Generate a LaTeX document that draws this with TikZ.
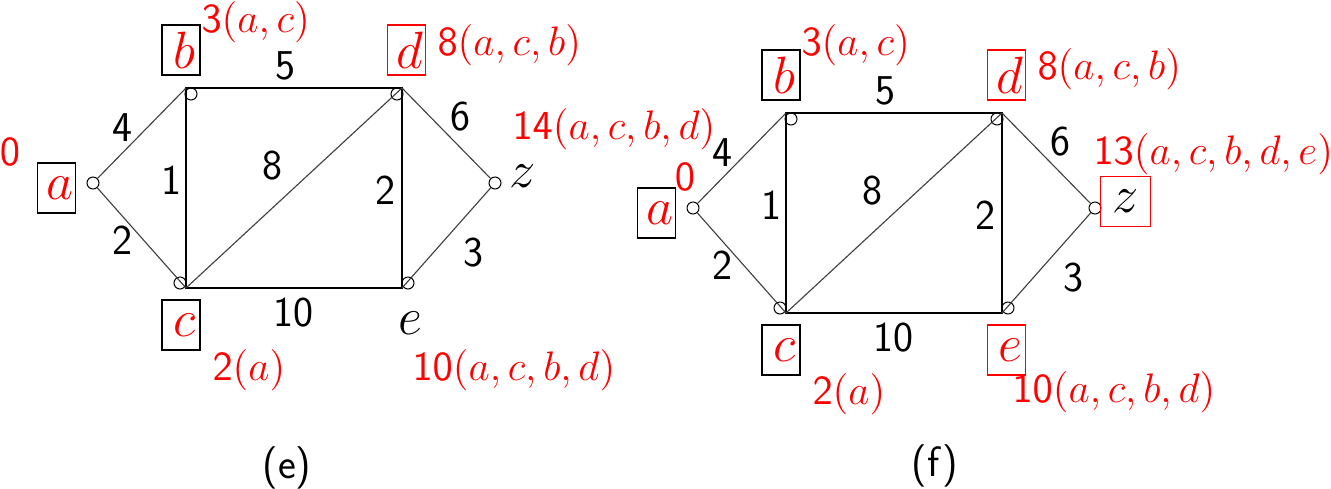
\RequirePackage{fix-cm}
\documentclass[tikz,border=0pt]{standalone}
\usepackage{tikz}
\usetikzlibrary{positioning}
\definecolor{lblred}{HTML}{FF0000}

\begin{document}
\begin{tikzpicture}[x=0.4pt, y=-0.4pt,
    vert/.style={circle, draw, line width=0.4pt, minimum size=4.8pt, inner sep=0pt},
    side/.style={line width=0.8pt},
    slant/.style={line width=0.45pt, black!75},
    wt/.style={font=\fontsize{17}{20}\selectfont\sffamily, inner sep=0pt},
    lbl/.style={text=lblred, font=\fontsize{16.5}{19}\selectfont, inner sep=0pt},
    letter/.style={font=\fontsize{21}{25}\selectfont, inner sep=0pt},
    box/.style={draw, line width=0.45pt, minimum width=15.2pt, minimum height=20pt, inner sep=0pt,
                font=\fontsize{21}{25}\selectfont, text=lblred},
    redbox/.style={box, draw=lblred}]
    \useasboundingbox (0,0) rectangle (1331,488);

    % ---------------- graph (e) ----------------
    % Corners and vertices
    \coordinate (eb) at (186,88);
    \coordinate (ed) at (402,88);
    \coordinate (ec) at (186,288);
    \coordinate (ee) at (402,288);
    \node[vert] (ea) at (93,183) {};
    \node[vert] (ebo) at (191,94) {};
    \node[vert] (edo) at (397,94) {};
    \node[vert] (eco) at (180,283) {};
    \node[vert] (eeo) at (408,283) {};
    \node[vert] (ez) at (495,183) {};

    % Edges
    \draw[side] (eb) -- (ed) -- (ee) -- (ec) -- cycle;
    \draw[slant] (ea) -- (eb);
    \draw[slant] (ea) -- (ec);
    \draw[slant] (ec) -- (ed);
    \draw[slant] (ed) -- (ez);
    \draw[slant] (ez) -- (ee);

    % Weights
    \node[wt] (e-wab) at (122,128) {4};
    \node[wt] (e-wac) at (122,240) {2};
    \node[wt] (e-wbc) at (171,180) {1};
    \node[wt] (e-wcd) at (272,166) {8};
    \node[wt] (e-wbd) at (285,66) {5};
    \node[wt] (e-wde) at (385,190) {2};
    \node[wt] (e-wdz) at (460,117) {6};
    \node[wt] (e-wez) at (473,253) {3};
    \node[wt] (e-wce) at (293,313) {10};

    % Vertex names
    \node[box] (e-boxa) at (56.5,188) {\hspace*{3pt}$a$};
    \node[box] (e-boxb) at (181,50) {\hspace*{3pt}$b$};
    \node[box] (e-boxc) at (181,325) {\hspace*{3pt}$c$};
    \node[redbox] (e-boxd) at (406.5,50) {\hspace*{3pt}$d$};
    \node[letter] (e-name) at (410,323) {$e$};
    \node[letter] (z-name) at (523,176) {$z$};

    % Labels
    \node[lbl] (e-la) at (10,152) {$\mathsf{0}$};
    \node[lbl, anchor=west] (e-lb) at (201,22) {$\mathsf{3}(a,c)$};
    \node[lbl, anchor=west] (e-ld) at (437,45) {$\mathsf{8}(a,c,b)$};
    \node[lbl, anchor=west] (e-lz) at (512,129) {$\mathsf{14}(a,c,b,d)$};
    \node[lbl, anchor=west] (e-le) at (412,370) {$\mathsf{10}(a,c,b,d)$};
    \node[lbl, anchor=west] (e-lc) at (212,370) {$\mathsf{2}(a)$};

    \node[wt] (e-cap) at (287,468) {(e)};

    % ---------------- graph (f) ----------------
    \begin{scope}[shift={(600,25)}]
        % Corners and vertices
        \coordinate (fb) at (186,88);
        \coordinate (fd) at (402,88);
        \coordinate (fc) at (186,288);
        \coordinate (fe) at (402,288);
        \node[vert] (fa) at (93,183) {};
        \node[vert] (fbo) at (191,94) {};
        \node[vert] (fdo) at (397,94) {};
        \node[vert] (fco) at (180,283) {};
        \node[vert] (feo) at (408,283) {};
        \node[vert] (fz) at (495,183) {};

        % Edges
        \draw[side] (fb) -- (fd) -- (fe) -- (fc) -- cycle;
        \draw[slant] (fa) -- (fb);
        \draw[slant] (fa) -- (fc);
        \draw[slant] (fc) -- (fd);
        \draw[slant] (fd) -- (fz);
        \draw[slant] (fz) -- (fe);

        % Weights
        \node[wt] (f-wab) at (122,128) {4};
        \node[wt] (f-wac) at (122,240) {2};
        \node[wt] (f-wbc) at (171,180) {1};
        \node[wt] (f-wcd) at (272,166) {8};
        \node[wt] (f-wbd) at (285,66) {5};
        \node[wt] (f-wde) at (385,190) {2};
        \node[wt] (f-wdz) at (460,117) {6};
        \node[wt] (f-wez) at (473,253) {3};
        \node[wt] (f-wce) at (293,313) {10};

        % Vertex names
        \node[box] (f-boxa) at (56.5,188) {\hspace*{3pt}$a$};
        \node[box] (f-boxb) at (181,50) {\hspace*{3pt}$b$};
        \node[box] (f-boxc) at (181,325) {\hspace*{3pt}$c$};
        \node[redbox] (f-boxd) at (406.5,50) {\hspace*{3pt}$d$};
        \node[redbox] (f-boxe) at (406.5,325) {\hspace*{3pt}$e$};
        \node[redbox, minimum width=20pt, text=black] (f-boxz) at (525.3,176.5) {$z$};

        % Labels
        \node[lbl] (f-la) at (85,152) {$\mathsf{0}$};
        \node[lbl, anchor=west] (f-lb) at (201,20) {$\mathsf{3}(a,c)$};
        \node[lbl, anchor=west] (f-ld) at (437,44) {$\mathsf{8}(a,c,b)$};
        \node[lbl, anchor=west] (f-lz) at (493,129) {$\mathsf{13}(a,c,b,d,e)$};
        \node[lbl, anchor=west] (f-le) at (412,367) {$\mathsf{10}(a,c,b,d)$};
        \node[lbl, anchor=west] (f-lc) at (212,369) {$\mathsf{2}(a)$};

        \node[wt] (f-cap) at (335,441) {(f)};
    \end{scope}
\end{tikzpicture}
\end{document}
